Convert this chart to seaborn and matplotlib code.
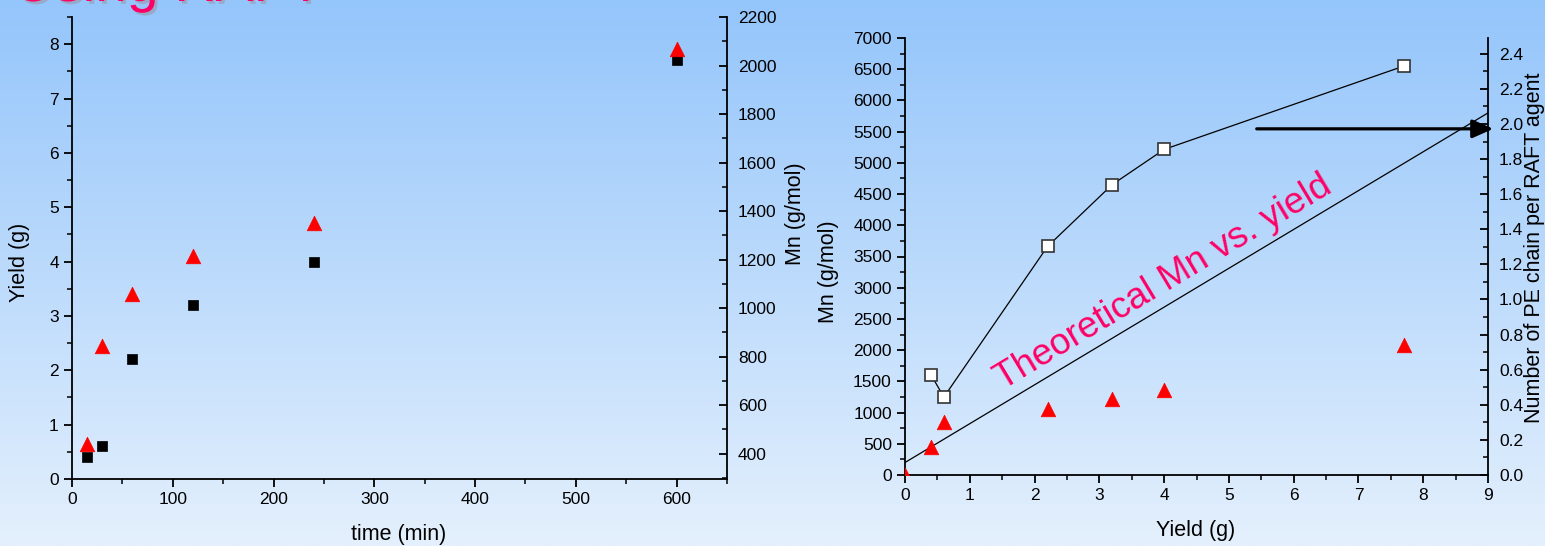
import numpy as np
import pandas as pd
import matplotlib
matplotlib.use("Agg")
import matplotlib.pyplot as plt
import matplotlib.patheffects as pe
from matplotlib.ticker import MultipleLocator, FixedLocator
import seaborn as sns

# ---------------- data ----------------
time_min = [15, 30, 60, 120, 240, 600]
yield_g = [0.4, 0.6, 2.2, 3.2, 4.0, 7.7]
mn_gmol = [440, 845, 1058, 1215, 1350, 2070]

yield_right = [0.0, 0.4, 0.6, 2.2, 3.2, 4.0, 7.7]
mn_right = [0, 449, 849, 1058, 1218, 1362, 2080]

yield_chain = [0.4, 0.6, 2.2, 3.2, 4.0, 7.7]
chains_per_raft = [0.572, 0.444, 1.302, 1.655, 1.855, 2.33]

theo_yield = [0.0, 9.0]
theo_mn = [200, 5800]

title_text = "Using RAFT"
annot_text = "Theoretical Mn vs. yield"

# ---------------- style ----------------
sns.set_style("ticks")
plt.rcParams["font.family"] = ["Liberation Sans", "DejaVu Sans"]
plt.rcParams["text.color"] = "black"
plt.rcParams["axes.labelcolor"] = "black"
plt.rcParams["xtick.color"] = "black"
plt.rcParams["ytick.color"] = "black"
plt.rcParams["axes.edgecolor"] = "black"

W, H = 1545, 546
fig = plt.figure(figsize=(W / 100, H / 100), dpi=100)

# gradient background
bg = fig.add_axes([0, 0, 1, 1], zorder=-10)
top = np.array([148, 197, 251]) / 255.0
bot = np.array([228, 240, 253]) / 255.0
t = np.linspace(0, 1, 256)[:, None]
grad = (top[None, :] * (1 - t) + bot[None, :] * t)[:, None, :]
bg.imshow(grad, aspect="auto", extent=[0, 1, 0, 1])
bg.set_axis_off()

def px_axes(l, t_, r, b):
    return [l / W, 1 - b / H, (r - l) / W, (b - t_) / H]

TICK_FS = 12.5
LAB_FS = 15.5
SPINE_LW = 1.3

def style_axis(ax):
    ax.set_facecolor("none")
    for s in ax.spines.values():
        s.set_linewidth(SPINE_LW)
        s.set_color("black")
    ax.spines["top"].set_visible(False)
    ax.tick_params(which="major", length=6, width=1.3, labelsize=TICK_FS,
                   colors="black", labelcolor="black")
    ax.tick_params(which="minor", length=3.5, width=1.1, colors="black")

# ---------------- left chart ----------------
ax1 = fig.add_axes(px_axes(72, 17, 727, 479))
style_axis(ax1)
ax1.spines["right"].set_visible(False)
sns.scatterplot(x=time_min, y=yield_g, ax=ax1, marker="s", color="black",
                s=55, edgecolor="black", linewidth=0.5, zorder=3)
ax1.set_xlim(0, 650)
ax1.set_ylim(0, 8.5)
ax1.xaxis.set_major_locator(MultipleLocator(100))
ax1.xaxis.set_minor_locator(MultipleLocator(50))
ax1.yaxis.set_major_locator(MultipleLocator(1))
ax1.yaxis.set_minor_locator(MultipleLocator(0.5))
ax1.tick_params(which="both", direction="out", right=False, top=False)
ax1.set_xlabel("time (min)", fontsize=LAB_FS, color="black")
ax1.set_ylabel("Yield (g)", fontsize=LAB_FS, color="black")
ax1.xaxis.set_label_coords(0.498, -0.121)
ax1.xaxis.label.set_va("center")
ax1.yaxis.set_label_coords(-0.080, 0.468)
ax1.yaxis.label.set_va("center")

ax1r = ax1.twinx()
style_axis(ax1r)
ax1r.spines["left"].set_visible(False)
ax1r.spines["bottom"].set_visible(False)
sns.scatterplot(x=time_min, y=mn_gmol, ax=ax1r, marker="^", color="#ff0000",
                s=110, edgecolor="#ff0000", linewidth=0.5, zorder=3)
ax1r.set_ylim(295, 2200)
ax1r.yaxis.set_major_locator(FixedLocator(list(range(400, 2201, 200))))
ax1r.yaxis.set_minor_locator(FixedLocator(list(range(300, 2201, 100))))
ax1r.tick_params(which="both", direction="in", right=True, left=False, pad=8)
ax1r.set_ylabel("Mn (g/mol)", fontsize=LAB_FS, color="black")
ax1r.yaxis.set_label_coords(1.104, 0.574)
ax1r.yaxis.label.set_va("center")
ax1r.yaxis.label.set_rotation(90)

# ---------------- right chart ----------------
ax2 = fig.add_axes(px_axes(905, 38, 1488, 475))
style_axis(ax2)
ax2.spines["right"].set_visible(False)
sns.lineplot(x=theo_yield, y=theo_mn, ax=ax2, color="black", linewidth=0.9, zorder=2)
sns.scatterplot(x=yield_right, y=mn_right, ax=ax2, marker="^", color="#ff0000",
                s=110, edgecolor="#ff0000", linewidth=0.5, zorder=3)
ax2.set_xlim(0, 9)
ax2.set_ylim(0, 7000)
ax2.xaxis.set_major_locator(MultipleLocator(1))
ax2.xaxis.set_minor_locator(MultipleLocator(0.5))
ax2.yaxis.set_major_locator(MultipleLocator(500))
ax2.yaxis.set_minor_locator(MultipleLocator(250))
ax2.tick_params(which="both", direction="out", right=False, top=False)
ax2.set_xlabel("Yield (g)", fontsize=LAB_FS, color="black")
ax2.set_ylabel("Mn (g/mol)", fontsize=LAB_FS, color="black")
ax2.xaxis.set_label_coords(0.499, -0.126)
ax2.xaxis.label.set_va("center")
ax2.yaxis.set_label_coords(-0.131, 0.465)
ax2.yaxis.label.set_va("center")

ax2.text(0.444, 0.440, annot_text, transform=ax2.transAxes, rotation=31,
         rotation_mode="anchor", ha="center", va="center",
         fontsize=26.5, color="#ff0066", zorder=4)

ax2.annotate("", xy=(9.08, 5545), xytext=(5.43, 5545),
             arrowprops=dict(arrowstyle="-|>,head_length=0.9,head_width=0.4",
                             lw=2.3, color="black", mutation_scale=14,
                             shrinkA=0, shrinkB=0),
             annotation_clip=False, zorder=5)

ax2r = ax2.twinx()
style_axis(ax2r)
ax2r.spines["left"].set_visible(False)
ax2r.spines["bottom"].set_visible(False)
d = pd.DataFrame({"y": yield_chain, "c": chains_per_raft})
sns.lineplot(data=d, x="y", y="c", ax=ax2r, color="black", linewidth=0.9,
             marker="s", markersize=8, markerfacecolor="white",
             markeredgecolor="#333333", markeredgewidth=1.2, zorder=3)
ax2r.set_ylim(0, 2.49)
ax2r.yaxis.set_major_locator(MultipleLocator(0.2))
ax2r.yaxis.set_minor_locator(MultipleLocator(0.1))
ax2r.yaxis.set_major_formatter(matplotlib.ticker.FormatStrFormatter("%.1f"))
ax2r.tick_params(which="both", direction="in", right=True, left=False, pad=8)
ax2r.set_ylabel("Number of PE chain per RAFT agent", fontsize=LAB_FS, color="black")
ax2r.yaxis.set_label_coords(1.080, 0.519)
ax2r.yaxis.label.set_va("center")
ax2r.yaxis.label.set_rotation(90)

# ---------------- title (cut off at top) ----------------
fig.text(13 / W, 1 - 1 / H, title_text, fontsize=41, color="#ff0066",
         ha="left", va="baseline",
         path_effects=[pe.withSimplePatchShadow(offset=(2, -2), shadow_rgbFace="#9a9aa8", alpha=0.6)])

fig.savefig("out.png", dpi=100)
